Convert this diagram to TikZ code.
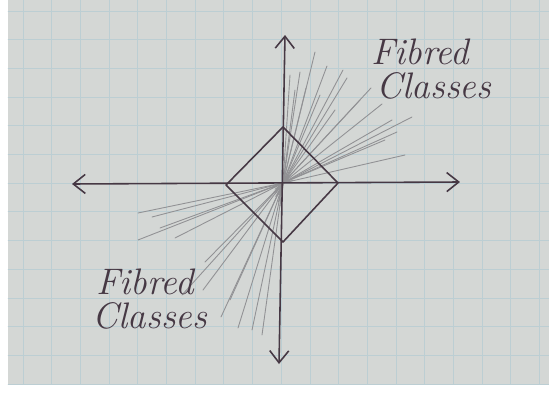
\documentclass[tikz,border=0pt]{standalone}
\usetikzlibrary{calc,arrows.meta}
\definecolor{paper}{RGB}{212,215,213}
\definecolor{gridblue}{RGB}{188,206,211}
\definecolor{ink}{RGB}{70,56,68}
\definecolor{pencil}{RGB}{145,145,148}
\begin{document}
\begin{tikzpicture}[x=0.02cm,y=-0.02cm,>={Straight Barb[length=2.4mm,width=3.8mm]},line join=round,line cap=round,
	axis/.style={draw=ink,line width=0.9pt},
	fibre/.style={draw=pencil,line width=0.5pt},
	hand/.style={text=ink,font=\fontsize{21}{24}\selectfont\itshape,inner sep=0pt}]
	\useasboundingbox (0,0) rectangle (549,396);
	\fill[white] (0,0) rectangle (549,396);
	\fill[paper] (8,0) rectangle (549,384);
	% squared paper
	\begin{scope}
		\clip (8,0) rectangle (549,384);
		\foreach \k in {0,...,18}
		\draw[gridblue,line width=0.5pt] (23+28.7*\k,0)--(23+28.7*\k,384);
		\foreach \k in {0,...,13}
		\draw[gridblue,line width=0.5pt] (8,11+28.7*\k)--(549,11+28.7*\k);
	\end{scope}
	\path
	(283,183) coordinate (O)
	(72,184) coordinate (W)
	(460,182) coordinate (E)
	(285,35) coordinate (N)
	(279,364) coordinate (S)
	(283,127) coordinate (T)
	(338,183) coordinate (R)
	(283,242) coordinate (B)
	(226,185) coordinate (L)
	;
	% pencil fibres
	\foreach \x/\y/\s in {315/52/-0.12,327/66/-0.1,290/75/-0.15,300/72/-0.08,343/70/-0.12,347/78/-0.05,
		371/88/-0.1,382/104/-0.08,412/117/-0.06,397/132/-0.1,405/155/-0.05,385/140/-0.12,
		360/100/-0.06,306/88/-0.2,320/95/-0.1,335/110/-0.15,295/90/-0.25,392/120/-0.04}
	\draw[fibre] ($(O)!\s!(\x,\y)$)--(\x,\y);
	\foreach \x/\y/\s in {138/213/-0.05,152/217/-0.08,138/240/-0.03,175/238/-0.06,182/295/-0.04,
		203/290/-0.07,221/317/-0.05,238/328/-0.03,252/330/-0.06,262/335/-0.04,205/262/-0.08,160/228/-0.05,
		230/300/-0.05}
	\draw[fibre] ($(O)!\s!(\x,\y)$)--(\x,\y);
	% axes and ball
	\draw[axis,<->] (W)--(E);
	\draw[axis,<->] (N)--(S);
	\draw[axis] (T)--(R)--(B)--(L)--cycle;
	\node[hand] (fibA) at (420,52) {Fibred};
	\node[hand] (clsA) at (434,86) {Classes};
	\node[hand] (fibB) at (145,282) {Fibred};
	\node[hand] (clsB) at (150,316) {Classes};
\end{tikzpicture}
\end{document}
